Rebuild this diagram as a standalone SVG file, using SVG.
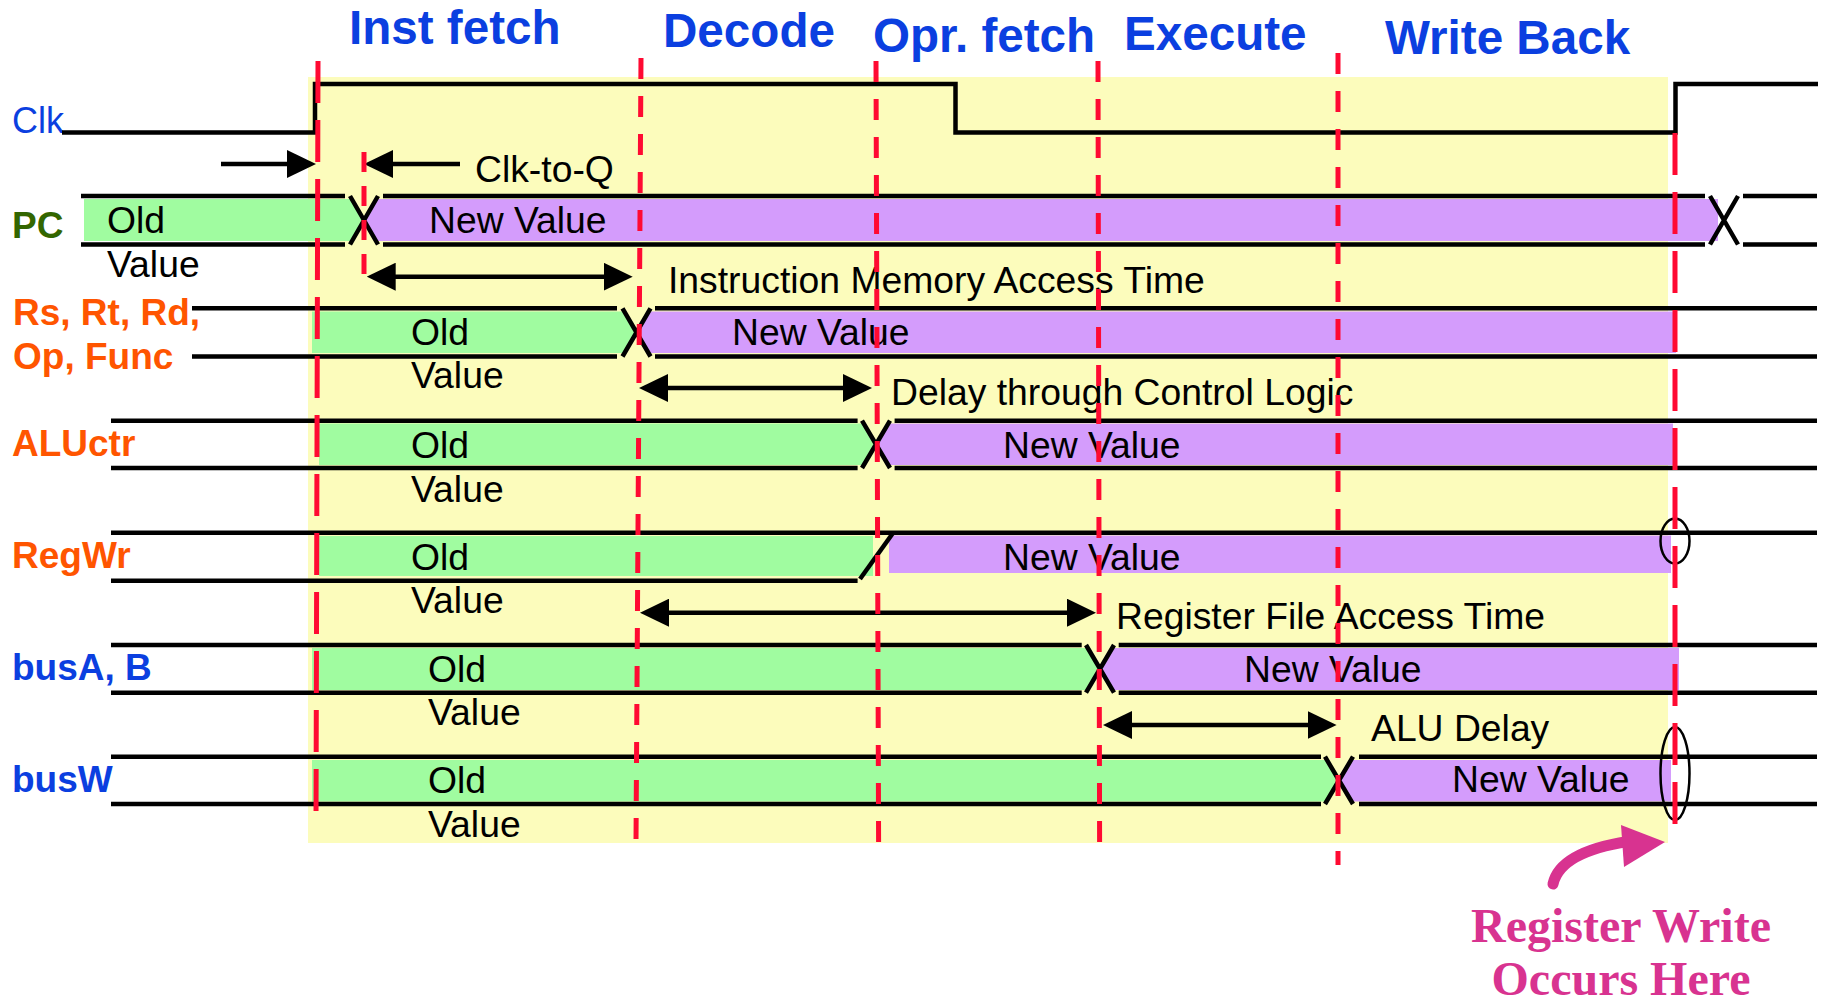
<svg xmlns="http://www.w3.org/2000/svg" width="1825" height="1003" viewBox="0 0 1825 1003">
  <defs>
    <style>
      .sig{stroke:#000;stroke-width:4.5;fill:none}
      .xx{stroke:#000;stroke-width:4.5;fill:none}
      .old{fill:#A0FCA0}
      .new{fill:#D49CFC}
      .t{font-family:"Liberation Sans",Arial,sans-serif;font-size:37.3px;fill:#000}
      .ttl{font-family:"Liberation Sans",Arial,sans-serif;font-size:47.6px;font-weight:bold;fill:#0B3FE0}
      .lbl{font-family:"Liberation Sans",Arial,sans-serif;font-size:37px;font-weight:bold}
      .blue{fill:#0B3FE0}
      .orange{fill:#FF5500}
      .dkgreen{fill:#336600}
      .edge{stroke:#FF0A32;stroke-width:5;stroke-dasharray:42 17;fill:none}
      .stage{stroke:#FF0A32;stroke-width:5;stroke-dasharray:21 17;fill:none}
      .arr{stroke:#000;stroke-width:4.5;fill:none;marker-end:url(#ah)}
      .dbl{stroke:#000;stroke-width:4.5;fill:none;marker-start:url(#ah);marker-end:url(#ah)}
      .ring{stroke:#000;stroke-width:2.5;fill:none}
      .note{font-family:"Liberation Serif","Times New Roman",serif;font-size:48px;font-weight:bold;fill:#D83390}
    </style>
    <marker id="ah" markerUnits="userSpaceOnUse" markerWidth="29" markerHeight="28" viewBox="0 0 29 28" refX="14" refY="14" orient="auto-start-reverse">
      <path d="M0,0 L29,14 L0,28 z" fill="#000"/>
    </marker>
  </defs>

  <!-- one clock cycle -->
  <rect id="cycle" x="308" y="77" width="1360" height="766" fill="#FCFCBC"/>

  <!-- stage titles -->
  <g id="stages">
    <text class="ttl" x="349" y="44">Inst fetch</text>
    <text class="ttl" x="663" y="47">Decode</text>
    <text class="ttl" x="873" y="52">Opr. fetch</text>
    <text class="ttl" x="1124" y="50">Execute</text>
    <text class="ttl" x="1385" y="54">Write Back</text>
  </g>

  <!-- clock -->
  <g id="clk">
    <text class="blue" x="12" y="133" style="font-family:'Liberation Sans',Arial,sans-serif;font-size:36px">Clk</text>
    <path class="sig" d="M62,132.5 H315 V84 H955.5 V132.5 H1675.5 V84 H1818"/>
  </g>

  <!-- PC -->
  <g id="pc">
    <text class="lbl dkgreen" x="12" y="238">PC</text>
    <polygon class="old" points="84,199 350,199 364,220 350,241 84,241"/>
    <polygon class="new" points="378,199 1718,199 1718,241 378,241 364,220"/>
    <path class="sig" d="M81,196 H345 M383,196 H1705 M1743,196 H1817 M81,244.5 H345 M383,244.5 H1705 M1743,244.5 H1817"/>
    <path class="xx" d="M350,196 L378,244.5 M378,196 L350,244.5 M1710,196 L1738,244.5 M1738,196 L1710,244.5"/>
    <text class="t" x="107" y="233">Old</text>
    <text class="t" x="107" y="277">Value</text>
    <text class="t" x="429" y="233">New Value</text>
  </g>

  <!-- Rs, Rt, Rd, Op, Func -->
  <g id="instr-fields">
    <text class="lbl orange" x="13" y="325">Rs, Rt, Rd,</text>
    <text class="lbl orange" x="13" y="369">Op, Func</text>
    <polygon class="old" points="312,311.5 622.5,311.5 636.5,332.4 622.5,353 312,353"/>
    <polygon class="new" points="650.5,311.5 1676,311.5 1676,353 650.5,353 636.5,332.4"/>
    <path class="sig" d="M192,308.3 H617 M655,308.3 H1817 M192,356.5 H617 M655,356.5 H1817"/>
    <path class="xx" d="M622.5,308.3 L650.5,356.5 M650.5,308.3 L622.5,356.5"/>
    <text class="t" x="411" y="345">Old</text>
    <text class="t" x="411" y="388">Value</text>
    <text class="t" x="732" y="345">New Value</text>
  </g>

  <!-- ALUctr -->
  <g id="aluctr">
    <text class="lbl orange" x="12" y="456">ALUctr</text>
    <polygon class="old" points="319,423.5 862,423.5 876,444.3 862,465 319,465"/>
    <polygon class="new" points="890,423.5 1673,423.5 1673,465 890,465 876,444.3"/>
    <path class="sig" d="M111,420.7 H857.6 M894.6,420.7 H1817 M111,468 H857.6 M894.6,468 H1817"/>
    <path class="xx" d="M862,420.7 L890,468 M890,420.7 L862,468"/>
    <text class="t" x="411" y="458">Old</text>
    <text class="t" x="411" y="502">Value</text>
    <text class="t" x="1003" y="458">New Value</text>
  </g>

  <!-- RegWr -->
  <g id="regwr">
    <text class="lbl orange" x="12" y="568">RegWr</text>
    <rect class="old" x="319" y="536" width="554" height="40"/>
    <rect class="new" x="889" y="535.5" width="782" height="37.5"/>
    <path class="sig" d="M111,532.7 H1817 M111,580.7 H857.6"/>
    <path class="xx" d="M860,579 L893,533"/>
    <ellipse class="ring" cx="1675" cy="541" rx="14.5" ry="22.5"/>
    <text class="t" x="411" y="570">Old</text>
    <text class="t" x="411" y="613">Value</text>
    <text class="t" x="1003" y="570">New Value</text>
  </g>

  <!-- busA, B -->
  <g id="busab">
    <text class="lbl blue" x="12" y="680">busA, B</text>
    <polygon class="old" points="312,648 1086,648 1100,668.8 1086,690 312,690"/>
    <polygon class="new" points="1114,648 1679,648 1679,690 1114,690 1100,668.8"/>
    <path class="sig" d="M111,645 H1081.7 M1118.7,645 H1817 M111,692.7 H1081.7 M1118.7,692.7 H1817"/>
    <path class="xx" d="M1086,645 L1114,692.7 M1114,645 L1086,692.7"/>
    <text class="t" x="428" y="682">Old</text>
    <text class="t" x="428" y="725">Value</text>
    <text class="t" x="1244" y="682">New Value</text>
  </g>

  <!-- busW -->
  <g id="busw">
    <text class="lbl blue" x="12" y="792">busW</text>
    <polygon class="old" points="312,760 1325,760 1339,780.4 1325,801.5 312,801.5"/>
    <polygon class="new" points="1353,760 1671,760 1671,801.5 1353,801.5 1339,780.4"/>
    <path class="sig" d="M111,756.7 H1321 M1359,756.7 H1817 M111,804 H1321 M1359,804 H1817"/>
    <path class="xx" d="M1325,756.7 L1353,804 M1353,756.7 L1325,804"/>
    <ellipse class="ring" cx="1675" cy="773.5" rx="14.5" ry="46.5"/>
    <text class="t" x="428" y="793">Old</text>
    <text class="t" x="428" y="837">Value</text>
    <text class="t" x="1452" y="792">New Value</text>
  </g>

  <!-- timing arrows -->
  <g id="connectors">
    <line class="arr" x1="221" y1="164" x2="301" y2="164"/>
    <line class="arr" x1="460" y1="164" x2="379" y2="164"/>
    <line class="dbl" x1="381.7" y1="276.7" x2="617.7" y2="276.7"/>
    <line class="dbl" x1="654" y1="388" x2="857" y2="388"/>
    <line class="dbl" x1="655" y1="612.7" x2="1081" y2="612.7"/>
    <line class="dbl" x1="1118" y1="725" x2="1321.6" y2="725"/>
  </g>

  <g id="delay-labels">
    <text class="t" x="475" y="182">Clk-to-Q</text>
    <text class="t" x="668" y="293">Instruction Memory Access Time</text>
    <text class="t" x="891" y="405">Delay through Control Logic</text>
    <text class="t" x="1116" y="629">Register File Access Time</text>
    <text class="t" x="1371" y="741">ALU Delay</text>
  </g>

  <!-- write point callout -->
  <g id="write-note">
    <path d="M1553,884 Q1560,852 1628,841.5" stroke="#D83390" stroke-width="11" stroke-linecap="round" fill="none"/>
    <polygon points="1621,825 1665,842 1624,867" fill="#D83390"/>
    <text class="note" x="1621" y="942" text-anchor="middle">Register Write</text>
    <text class="note" x="1621" y="995" text-anchor="middle">Occurs Here</text>
  </g>

  <!-- clock edges and stage boundaries -->
  <g id="boundaries">
    <line class="edge" x1="318" y1="61" x2="316" y2="822"/>
    <line class="stage" x1="364" y1="152" x2="364" y2="287" style="stroke-dasharray:20 14"/>
    <line class="stage" x1="641" y1="58" x2="636" y2="842"/>
    <line class="stage" x1="876" y1="61" x2="878.6" y2="843"/>
    <line class="stage" x1="1098" y1="61" x2="1099.6" y2="843"/>
    <line class="stage" x1="1338" y1="53" x2="1338" y2="865"/>
    <line class="edge" x1="1675" y1="133" x2="1675" y2="835"/>
  </g>
</svg>
